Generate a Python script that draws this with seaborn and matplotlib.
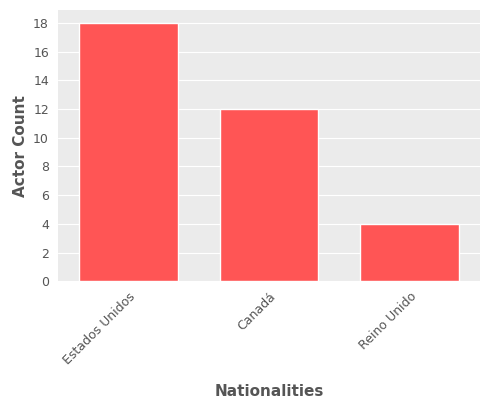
import pandas as pd
import matplotlib.pyplot as plt
import seaborn as sns

nationalities = ['Estados Unidos', 'Canadá', 'Reino Unido']
actor_counts = [18, 12, 4]

df = pd.DataFrame({'Nationalities': nationalities, 'Actor Count': actor_counts})

sns.set_style('darkgrid', {'axes.facecolor': '#EBEBEB', 'grid.color': 'white'})
fig, ax = plt.subplots(figsize=(5, 4), dpi=100)
sns.barplot(data=df, x='Nationalities', y='Actor Count', color='#FF5555',
            saturation=1, width=0.7, ax=ax)
ax.xaxis.grid(False)
ax.set_ylim(0, 18.9)
ax.set_yticks(range(0, 19, 2))
for s in ax.spines.values():
    s.set_visible(False)
ax.tick_params(colors='#555555', labelsize=9, length=3)
ax.tick_params(axis='x', rotation=45)
for lbl in ax.get_xticklabels():
    lbl.set_ha('right')
    lbl.set_rotation_mode('anchor')
ax.set_xlabel('Nationalities', color='#555555', fontsize=11, fontweight='bold', labelpad=12)
ax.set_ylabel('Actor Count', color='#555555', fontsize=11, fontweight='bold')
fig.subplots_adjust(left=0.116, right=0.96, top=0.975, bottom=0.297)
fig.savefig('out.png')
